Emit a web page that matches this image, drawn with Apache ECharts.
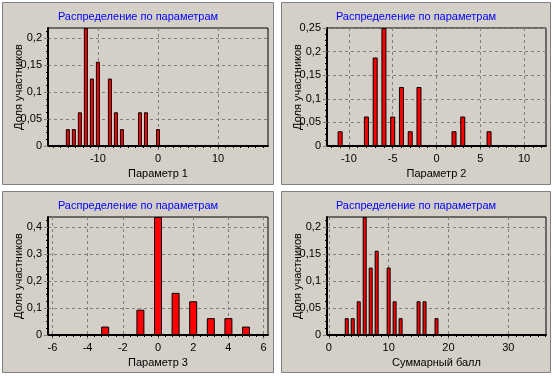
<!DOCTYPE html>
<html>
<head>
<meta charset="utf-8">
<script src="https://cdn.jsdelivr.net/npm/echarts@6/dist/echarts.min.js"></script>
<style>
html,body{margin:0;padding:0;background:#fff;}
#c{width:556px;height:378px;}
</style>
</head>
<body>
<div id="c"></div>
<script>
// ---- texts ----
const titleText = 'Распределение по параметрам';
const yName = 'Доля участников';
const xNames = ['Параметр 1', 'Параметр 2', 'Параметр 3', 'Суммарный балл'];

// ---- data (share of participants per value) ----
const p1X = [-15, -14, -13, -12, -11, -10, -8, -7, -6, -3, -2, 0];
const p1Y = [0.03125, 0.03125, 0.0625, 0.21875, 0.125, 0.15625, 0.125, 0.0625, 0.03125, 0.0625, 0.0625, 0.03125];

const p2X = [-11, -8, -7, -6, -5, -4, -3, -2, 2, 3, 6];
const p2Y = [0.03125, 0.0625, 0.1875, 0.25, 0.0625, 0.125, 0.03125, 0.125, 0.03125, 0.0625, 0.03125];

const p3X = [-3, -1, 0, 1, 2, 3, 4, 5];
const p3Y = [0.03125, 0.09375, 0.4375, 0.15625, 0.125, 0.0625, 0.0625, 0.03125];

const p4X = [3, 4, 5, 6, 7, 8, 10, 11, 12, 15, 16, 18];
const p4Y = [0.03125, 0.03125, 0.0625, 0.21875, 0.125, 0.15625, 0.125, 0.0625, 0.03125, 0.0625, 0.0625, 0.03125];

// ---- tick labels ----
const p1XTicks = [-10, 0, 10];
const p2XTicks = [-10, -5, 0, 5, 10];
const p3XTicks = [-6, -4, -2, 0, 2, 4, 6];
const p4XTicks = [0, 10, 20, 30];
const p1YTicks = [0, 0.05, 0.1, 0.15, 0.2];
const p2YTicks = [0, 0.05, 0.1, 0.15, 0.2, 0.25];
const p3YTicks = [0, 0.1, 0.2, 0.3, 0.4];
const p4YTicks = [0, 0.05, 0.1, 0.15, 0.2];

// ---- layout / style ----
const FONT = '"Liberation Sans", Arial, sans-serif';
const panels = [
  {box:[2,2,271,182],   tc:[138,16],  grid:[48,28,220,118],  xr:[-18.3,18.3], minor:[-10,1.25], yi:0.05, bw:4, x:p1X, y:p1Y, xt:p1XTicks, yt:p1YTicks, name:xNames[0]},
  {box:[281,2,269,182], tc:[416,16],  grid:[327,28,219,118], xr:[-12.5,12.5], minor:[-10,1],    yi:0.05, bw:5, x:p2X, y:p2Y, xt:p2XTicks, yt:p2YTicks, name:xNames[1]},
  {box:[2,191,271,181], tc:[138,205], grid:[48,217,220,118], xr:[-6.25,6.25], minor:[-6,0.4],   yi:0.1,  bw:8, x:p3X, y:p3Y, xt:p3XTicks, yt:p3YTicks, name:xNames[2]},
  {box:[281,191,269,181],tc:[416,205],grid:[327,217,219,118],xr:[-0.3,36.3],  minor:[0,1.25],   yi:0.05, bw:4, x:p4X, y:p4Y, xt:p4XTicks, yt:p4YTicks, name:xNames[3]}
];

function minorTicks(p) {
  const start = p.minor[0], step = p.minor[1], out = [];
  for (let v = start; v >= p.xr[0] - 1e-9; v -= step) out.push(+v.toFixed(4));
  for (let v = start + step; v <= p.xr[1] + 1e-9; v += step) out.push(+v.toFixed(4));
  return out.sort((a, b) => a - b);
}
const fmt = v => String(Math.round(v * 1000) / 1000).replace('.', ',');
const labelStyle = {color:'#000', fontSize:11, fontFamily:FONT};
const gridLine = {show:true, lineStyle:{color:'#808080', width:1, type:[3,3]}};

const xAxes = [], yAxes = [], series = [];
panels.forEach((p, i) => {
  xAxes.push({
    type:'value', gridIndex:i, position:'bottom', min:p.xr[0], max:p.xr[1],
    axisLine:{show:true, onZero:false, lineStyle:{color:'#000', width:2}},
    axisTick:{show:true, length:4, customValues:p.xt, lineStyle:{color:'#808080'}},
    axisLabel:Object.assign({customValues:p.xt, margin:7, formatter:v => String(v).replace('.', ',')}, labelStyle),
    splitLine:gridLine,
    name:p.name, nameLocation:'middle', nameGap:22, nameMoveOverlap:false, nameTextStyle:labelStyle
  });
});
panels.forEach((p, i) => {
  xAxes.push({
    type:'value', gridIndex:i, position:'bottom', min:p.xr[0], max:p.xr[1],
    axisLine:{show:false}, axisLabel:{show:false}, splitLine:{show:false},
    axisTick:{show:true, length:2, customValues:minorTicks(p), lineStyle:{color:'#000'}}
  });
});
panels.forEach((p, i) => {
  yAxes.push({
    type:'value', gridIndex:i, min:0, max:Math.max(...p.y), interval:p.yi,
    axisLine:{show:true, onZero:false, lineStyle:{color:'#000', width:2}},
    axisTick:{show:true, length:4, customValues:p.yt, lineStyle:{color:'#808080'}},
    minorTick:{show:true, splitNumber:4, length:2, lineStyle:{color:'#000'}},
    axisLabel:Object.assign({customValues:p.yt, margin:6, formatter:fmt}, labelStyle),
    splitLine:gridLine,
    name:yName, nameLocation:'middle', nameGap:24, nameRotate:90, nameMoveOverlap:false, nameTextStyle:labelStyle
  });
  series.push({
    type:'bar', xAxisIndex:i, yAxisIndex:i, silent:true,
    data:p.x.map((x, k) => [x, p.y[k]]),
    barWidth:p.bw,
    itemStyle:{color:'#ff0000', borderColor:'#000', borderWidth:1}
  });
});

const chart = echarts.init(document.getElementById('c'), null, {renderer:'canvas'});
chart.setOption({
  backgroundColor:'#ffffff',
  animation:false,
  textStyle:{fontFamily:FONT},
  graphic:{elements:panels.map(p => ({
    type:'rect', z:-100, silent:true,
    shape:{x:p.box[0] + 0.5, y:p.box[1] + 0.5, width:p.box[2], height:p.box[3]},
    style:{fill:'#d4d0c8', stroke:'#808080', lineWidth:1}
  }))},
  title:panels.map(p => ({
    text:titleText, left:p.tc[0], top:p.tc[1] - 5, textAlign:'center', padding:0,
    textStyle:{color:'#0000ff', fontSize:11, fontWeight:'normal', fontFamily:FONT}
  })),
  grid:panels.map(p => ({
    left:p.grid[0], top:p.grid[1], width:p.grid[2], height:p.grid[3],
    show:true, backgroundColor:'transparent', borderColor:'#000', borderWidth:1,
    outerBoundsMode:'none'
  })),
  xAxis:xAxes,
  yAxis:yAxes,
  series:series
});
</script>
</body>
</html>
